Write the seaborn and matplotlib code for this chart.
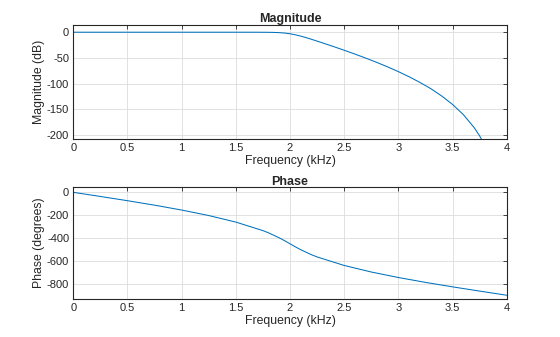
import matplotlib
matplotlib.use("Agg")
import matplotlib.pyplot as plt
import seaborn as sns
import pandas as pd
from matplotlib.ticker import FuncFormatter

# ---- data ----
mag_freq_khz = [0.0, 0.5, 1.0, 1.5, 1.6, 1.7, 1.8, 1.85, 1.9, 1.95, 2.0, 2.05, 2.1,
                2.15, 2.2, 2.3, 2.4, 2.5, 2.6, 2.7, 2.8, 2.9, 3.0, 3.1, 3.2, 3.3,
                3.4, 3.5, 3.6, 3.7, 3.75, 3.8]
mag_db = [0.0, 0.0, 0.0, -0.001, -0.007, -0.04, -0.18, -0.39, -0.82, -1.63, -3.01,
          -5.03, -7.65, -10.63, -13.88, -20.70, -27.77, -35.02, -42.54, -50.36,
          -58.57, -67.27, -76.55, -86.6, -97.65, -109.7, -123.9, -140.3, -160.1,
          -185.4, -201.3, -220.8]

phase_freq_khz = [0.0, 0.25, 0.5, 0.75, 1.0, 1.25, 1.5, 1.75, 1.8, 1.9, 1.95, 2.0,
                  2.05, 2.1, 2.2, 2.25, 2.5, 2.75, 3.0, 3.25, 3.5, 3.75, 4.0]
phase_deg = [0.0, -36.1, -73.2, -112.3, -154.9, -203.0, -260.3, -334.9, -353.6,
             -397.5, -423.1, -450.0, -476.9, -502.5, -546.4, -565.1, -639.7,
             -697.0, -745.1, -787.7, -826.8, -863.9, -900.0]

x_ticks = [0, 0.5, 1, 1.5, 2, 2.5, 3, 3.5, 4]
mag_ticks = [0, -50, -100, -150, -200]
phase_ticks = [0, -200, -400, -600, -800]

sns.set_style("white")
plt.rcParams['font.family'] = ['Liberation Sans', 'DejaVu Sans']
plt.rcParams['axes.unicode_minus'] = False

LINE = "#0072BD"
TXT = "#262626"

fig = plt.figure(figsize=(5.6, 3.37), dpi=100)
ax1 = fig.add_axes([0.1309, 0.5867, 0.7739, 0.3391])
ax2 = fig.add_axes([0.1309, 0.1128, 0.7739, 0.3314])

df_mag = pd.DataFrame({"f": mag_freq_khz, "v": mag_db})
df_ph = pd.DataFrame({"f": phase_freq_khz, "v": phase_deg})

sns.lineplot(data=df_mag, x="f", y="v", ax=ax1, color=LINE, linewidth=0.75,
             estimator=None, sort=False)
sns.lineplot(data=df_ph, x="f", y="v", ax=ax2, color=LINE, linewidth=0.75,
             estimator=None, sort=False)

fmt = FuncFormatter(lambda v, p: ("%g" % v))

def style(ax, yt, ylim, ylabel, title):
    ax.set_xlim(0, 4)
    ax.set_ylim(*ylim)
    ax.set_xticks(x_ticks)
    ax.set_yticks(yt)
    ax.xaxis.set_major_formatter(fmt)
    ax.yaxis.set_major_formatter(fmt)
    ax.grid(True, color="#dcdcdc", linewidth=0.6)
    ax.set_axisbelow(True)
    for s in ax.spines.values():
        s.set_visible(True)
        s.set_color(TXT)
        s.set_linewidth(0.8)
    ax.tick_params(axis="both", which="major", direction="in", length=3,
                   width=0.6, color=TXT, labelcolor=TXT, labelsize=8,
                   top=True, right=True, pad=3)
    ax.set_xlabel("Frequency (kHz)", fontsize=8.8, color=TXT, labelpad=1)
    ax.set_ylabel(ylabel, fontsize=8.8, color=TXT, labelpad=1)
    ax.set_title(title, fontsize=9, fontweight="bold", color=TXT, pad=2)

style(ax1, mag_ticks, (-208, 14), "Magnitude (dB)", "Magnitude")
style(ax2, phase_ticks, (-933, 44), "Phase (degrees)", "Phase")

fig.savefig("out.png", dpi=100)
